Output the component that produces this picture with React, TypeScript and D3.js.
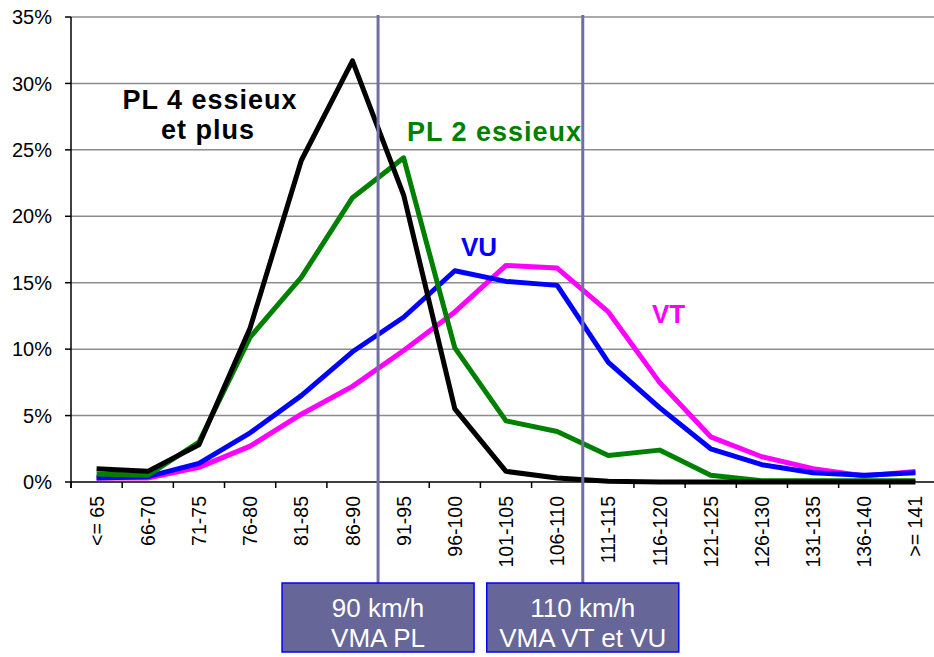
// App.tsx
import React, { useEffect, useRef } from 'react';
import * as d3 from 'd3';

const categories = [
  '<= 65', '66-70', '71-75', '76-80', '81-85', '86-90', '91-95', '96-100',
  '101-105', '106-110', '111-115', '116-120', '121-125', '126-130',
  '131-135', '136-140', '>= 141',
];

// share of vehicles per speed class (%)
const vt = [0.3, 0.3, 1.1, 2.7, 5.1, 7.2, 9.9, 12.8, 16.3, 16.1, 12.8, 7.5, 3.4, 1.9, 1.0, 0.45, 0.8];
const vu = [0.3, 0.4, 1.4, 3.7, 6.5, 9.8, 12.4, 15.9, 15.1, 14.8, 9.0, 5.6, 2.5, 1.3, 0.7, 0.5, 0.7];
const pl2 = [0.6, 0.5, 3.0, 10.9, 15.4, 21.4, 24.4, 10.1, 4.6, 3.8, 2.0, 2.4, 0.5, 0.1, 0.1, 0.1, 0.1];
const pl4 = [1.0, 0.8, 2.8, 11.6, 24.2, 31.7, 21.6, 5.5, 0.8, 0.3, 0.05, 0, 0, 0, 0, 0, 0];

const yTicks = [0, 5, 10, 15, 20, 25, 30, 35];

// speed limits drawn as vertical markers (index of first class above the limit)
const limits = [
  { index: 6, lines: ['90 km/h', 'VMA PL'] },
  { index: 10, lines: ['110 km/h', 'VMA VT et VU'] },
];

const FONT = '"Liberation Sans", Arial, Helvetica, sans-serif';

const App: React.FC = () => {
  const chartRef = useRef<SVGSVGElement>(null);

  useEffect(() => {
    if (!chartRef.current) return;
    const svg = d3.select(chartRef.current);
    svg.selectAll('*').remove();

    const margin = { top: 17, left: 71 };
    const plotBottom = 482;
    const plotRight = 941;

    const x = d3
      .scaleBand()
      .domain(categories)
      .range([margin.left, plotRight])
      .paddingInner(0)
      .paddingOuter(0);

    const y = d3.scaleLinear().domain([0, 35]).range([plotBottom, margin.top]);

    const cx = (i: number) => (x(categories[i]) as number) + x.bandwidth() / 2;

    // gridlines
    svg
      .append('g')
      .selectAll('line')
      .data(yTicks.filter((t) => t > 0))
      .join('line')
      .attr('x1', margin.left)
      .attr('x2', plotRight)
      .attr('y1', (d) => y(d))
      .attr('y2', (d) => y(d))
      .attr('stroke', '#8c8c8c')
      .attr('stroke-width', 1.5);

    // y axis
    const yAxis = svg.append('g');
    yAxis
      .append('line')
      .attr('x1', margin.left)
      .attr('x2', margin.left)
      .attr('y1', y(35))
      .attr('y2', plotBottom + 6)
      .attr('stroke', '#000')
      .attr('stroke-width', 1.5);
    yAxis
      .selectAll('line.tick')
      .data(yTicks)
      .join('line')
      .attr('class', 'tick')
      .attr('x1', margin.left - 6)
      .attr('x2', margin.left)
      .attr('y1', (d) => y(d))
      .attr('y2', (d) => y(d))
      .attr('stroke', '#000')
      .attr('stroke-width', 1.5);
    yAxis
      .selectAll('text')
      .data(yTicks)
      .join('text')
      .attr('x', 52)
      .attr('y', (d) => y(d))
      .attr('dy', '0.36em')
      .attr('text-anchor', 'end')
      .attr('font-family', FONT)
      .attr('font-size', 20)
      .text((d) => d + '%');

    // x axis
    const xAxis = svg.append('g');
    xAxis
      .append('line')
      .attr('x1', margin.left)
      .attr('x2', plotRight)
      .attr('y1', plotBottom)
      .attr('y2', plotBottom)
      .attr('stroke', '#000')
      .attr('stroke-width', 1.5);
    const bounds = categories.map((c) => x(c) as number).concat([plotRight]);
    xAxis
      .selectAll('line.tick')
      .data(bounds)
      .join('line')
      .attr('class', 'tick')
      .attr('x1', (d) => d)
      .attr('x2', (d) => d)
      .attr('y1', plotBottom)
      .attr('y2', plotBottom + 6)
      .attr('stroke', '#000')
      .attr('stroke-width', 1.5);
    xAxis
      .selectAll('text')
      .data(categories)
      .join('text')
      .attr('transform', (d, i) => `translate(${cx(i)},${plotBottom + 14}) rotate(-90)`)
      .attr('dy', '0.36em')
      .attr('text-anchor', 'end')
      .attr('font-family', FONT)
      .attr('font-size', 19.5)
      .text((d) => d);

    // series
    const line = d3
      .line<number>()
      .x((d, i) => cx(i))
      .y((d) => y(d));

    const series = [
      { values: vt, color: '#ff00ff' },
      { values: vu, color: '#0000ff' },
      { values: pl2, color: '#008000' },
      { values: pl4, color: '#000000' },
    ];

    svg
      .append('g')
      .selectAll('path')
      .data(series)
      .join('path')
      .attr('fill', 'none')
      .attr('stroke', (d) => d.color)
      .attr('stroke-width', 5)
      .attr('stroke-linejoin', 'round')
      .attr('d', (d) => line(d.values));

    // series labels
    const labels = svg
      .append('g')
      .attr('font-family', FONT)
      .attr('font-weight', 'bold')
      .attr('letter-spacing', 1);
    labels
      .append('text')
      .attr('x', 210)
      .attr('y', 109)
      .attr('text-anchor', 'middle')
      .attr('font-size', 27)
      .attr('fill', '#000')
      .text('PL 4 essieux');
    labels
      .append('text')
      .attr('x', 208)
      .attr('y', 139)
      .attr('text-anchor', 'middle')
      .attr('font-size', 27)
      .attr('fill', '#000')
      .text('et plus');
    labels
      .append('text')
      .attr('x', 407)
      .attr('y', 141)
      .attr('font-size', 27)
      .attr('fill', '#008000')
      .text('PL 2 essieux');
    labels
      .append('text')
      .attr('x', 461)
      .attr('y', 256)
      .attr('font-size', 26)
      .attr('letter-spacing', 0)
      .attr('fill', '#0000ff')
      .text('VU');
    labels
      .append('text')
      .attr('x', 652)
      .attr('y', 323)
      .attr('font-size', 26)
      .attr('letter-spacing', 0)
      .attr('fill', '#ff00ff')
      .text('VT');

    // speed limit markers
    const boxTop = 583;
    const boxW = 192;
    const boxH = 69;
    const markers = svg
      .append('g')
      .selectAll('g')
      .data(limits)
      .join('g');
    markers
      .append('line')
      .attr('x1', (d) => x(categories[d.index]) as number)
      .attr('x2', (d) => x(categories[d.index]) as number)
      .attr('y1', 15)
      .attr('y2', boxTop)
      .attr('stroke', '#6f6fa3')
      .attr('stroke-width', 3);
    markers
      .append('rect')
      .attr('x', (d) => (x(categories[d.index]) as number) - boxW / 2)
      .attr('y', boxTop)
      .attr('width', boxW)
      .attr('height', boxH)
      .attr('fill', '#666699')
      .attr('stroke', '#0000ff')
      .attr('stroke-width', 1.5);
    markers
      .selectAll('text')
      .data((d) => d.lines.map((t, k) => ({ t, k, xc: x(categories[d.index]) as number })))
      .join('text')
      .attr('x', (d) => d.xc)
      .attr('y', (d) => 617 + d.k * 30)
      .attr('text-anchor', 'middle')
      .attr('font-family', FONT)
      .attr('font-size', 26)
      .attr('fill', '#fff')
      .text((d) => d.t);
  }, []);

  return (
    <div style={{ position: 'fixed', left: 0, top: 0, background: '#fff' }}>
      <svg ref={chartRef} width={934} height={657} style={{ display: 'block' }}></svg>
    </div>
  );
};

export default App;
